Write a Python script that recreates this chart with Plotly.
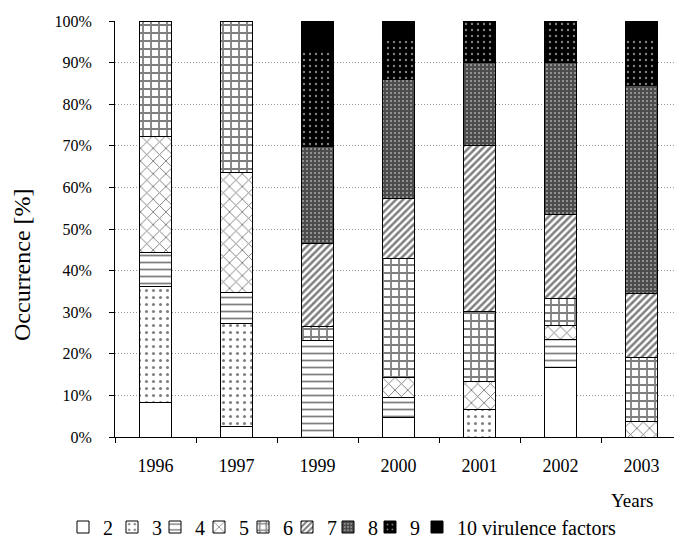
import plotly.graph_objects as go

years = ["1996", "1997", "1999", "2000", "2001", "2002", "2003"]
v2 = [8.3, 2.6, 0, 4.8, 0, 16.7, 0]
v3 = [27.8, 24.8, 0, 0, 6.7, 0, 0]
v4 = [8.3, 7.3, 23.3, 4.8, 0, 6.7, 0]
v5 = [27.8, 29.0, 0, 4.8, 6.7, 3.3, 3.8]
v6 = [27.8, 36.3, 3.3, 28.6, 16.7, 6.7, 15.4]
v7 = [0, 0, 20.0, 14.3, 40.0, 20.0, 15.4]
v8 = [0, 0, 23.3, 28.6, 20.0, 36.7, 50.0]
v9 = [0, 0, 23.3, 9.5, 10.0, 10.0, 11.5]
v10 = [0, 0, 6.7, 4.8, 0, 0, 3.8]
names = ["2", "3", "4", "5", "6", "7", "8", "9", "10 virulence factors"]
series = [v2, v3, v4, v5, v6, v7, v8, v9, v10]

patterns = [
    dict(shape="", bgcolor="white"),
    dict(shape=".", fgcolor="black", bgcolor="white", size=7, solidity=0.15),
    dict(shape="-", fgcolor="black", bgcolor="white", size=7, solidity=0.25),
    dict(shape="x", fgcolor="black", bgcolor="white", size=9, solidity=0.2),
    dict(shape="+", fgcolor="black", bgcolor="white", size=8, solidity=0.4),
    dict(shape="/", fgcolor="black", bgcolor="white", size=5, solidity=0.5),
    dict(shape="+", fgcolor="black", bgcolor="#999999", size=4, solidity=0.8),
    dict(shape=".", fgcolor="white", bgcolor="black", size=6, solidity=0.12),
    dict(shape="", bgcolor="black"),
]
colors = ["white", "white", "white", "white", "white", "white", "#1a1a1a", "black", "black"]

font = "Liberation Serif"
W, H = 674, 541
ML, MR, MT, MB = 115, 0, 21, 104
PW, PH = W - ML - MR, H - MT - MB
legend_text_px = [103, 152, 195, 239, 283, 327, 368, 410, 457]
legend_mid_px = 527

fig = go.Figure()
layout_legends = {}
for i, (name, vals, pat, col) in enumerate(zip(names, series, patterns, colors)):
    key = "legend" if i == 0 else f"legend{i + 1}"
    y = [v if v > 0 else None for v in vals]
    fig.add_trace(go.Bar(
        x=years, y=y, name=name, width=0.4, legend=key,
        marker=dict(color=col, pattern=pat, line=dict(color="black", width=1)),
    ))
    layout_legends[key] = dict(
        x=(legend_text_px[i] - 40 - ML) / PW, xanchor="left",
        y=1 - (legend_mid_px - MT) / PH, yanchor="middle",
        orientation="h", font=dict(family=font, size=20, color="black"),
        itemwidth=30, borderwidth=0, bgcolor="rgba(0,0,0,0)",
    )

fig.update_layout(
    barmode="stack",
    width=W, height=H,
    margin=dict(l=ML, r=MR, t=MT, b=MB, autoexpand=False),
    plot_bgcolor="white", paper_bgcolor="white",
    font=dict(family=font, size=16, color="black"),
    showlegend=True,
    xaxis=dict(range=[-0.5, 6.4], tickson="boundaries", ticks="outside", ticklen=5,
               tickcolor="black", showline=True, linecolor="black", linewidth=1,
               showgrid=False, tickfont=dict(family=font, size=18), ticklabelstandoff=12),
    yaxis=dict(range=[0, 100], dtick=10, ticksuffix="%", ticks="outside", ticklen=5,
               tickcolor="black", showline=True, linecolor="black", linewidth=1,
               showgrid=True, gridcolor="#999999", griddash="1px,2px", gridwidth=1,
               zeroline=False, tickfont=dict(family=font, size=16), ticklabelstandoff=14),
    annotations=[
        dict(text="Years", x=(632 - ML) / PW, xref="paper", xanchor="center",
             y=1 - (500 - MT) / PH, yref="paper", yanchor="middle",
             showarrow=False, font=dict(family=font, size=19)),
        dict(text="Occurrence [%]", x=(22 - ML) / PW, xref="paper", xanchor="center",
             y=1 - (265 - MT) / PH, yref="paper", yanchor="middle", textangle=-90,
             showarrow=False, font=dict(family=font, size=24)),
    ],
    **layout_legends,
)
fig.write_html("out.html", config={"displayModeBar": False},
               post_script="document.body.style.margin='0';")
